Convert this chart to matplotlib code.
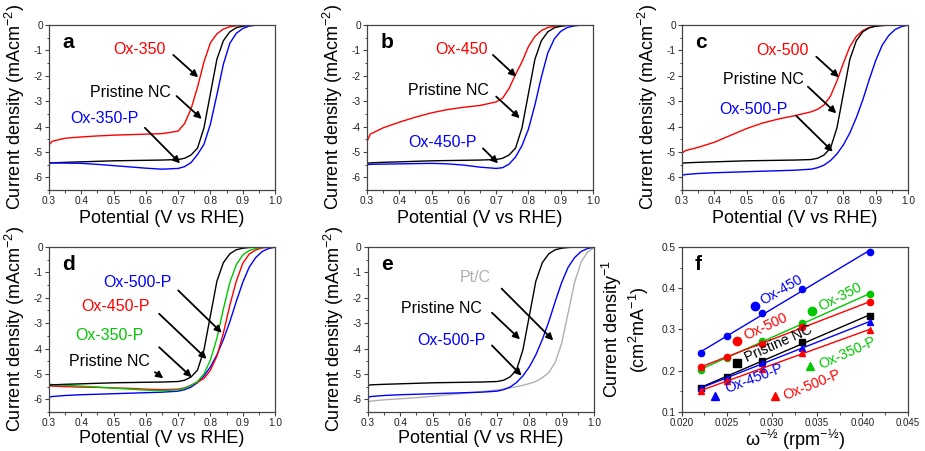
import numpy as np
import matplotlib
matplotlib.use('Agg')
import matplotlib.pyplot as plt
from matplotlib.ticker import MultipleLocator, FormatStrFormatter

plt.rcParams['font.family'] = ['Liberation Sans', 'DejaVu Sans']
plt.rcParams['axes.unicode_minus'] = False
plt.rcParams['mathtext.fontset'] = 'custom'
plt.rcParams['mathtext.rm'] = 'Liberation Sans'
plt.rcParams['mathtext.it'] = 'Liberation Sans:italic'
plt.rcParams['mathtext.default'] = 'regular'

# ---- LSV data (potential in V vs RHE, current density in mA cm-2) ----
potential = [0.30, 0.31, 0.35, 0.40, 0.45, 0.50, 0.55, 0.60, 0.65, 0.70, 0.72, 0.74, 0.76,
             0.78, 0.80, 0.82, 0.84, 0.86, 0.88, 0.90, 0.92, 0.94, 0.96, 0.98, 1.00]

pristine = [-5.45, -5.43, -5.41, -5.39, -5.37, -5.35, -5.34, -5.33, -5.32, -5.30, -5.25, -5.12, -4.85,
            -4.05, -2.70, -1.35, -0.62, -0.27, -0.11, -0.05, -0.02, -0.01, 0, 0, 0]
ox350 = [-4.72, -4.58, -4.46, -4.41, -4.37, -4.34, -4.32, -4.30, -4.28, -4.18, -3.88, -3.30, -2.45,
         -1.45, -0.70, -0.35, -0.16, -0.07, -0.03, -0.01, 0, 0, 0, 0, 0]
ox350p = [-5.42, -5.43, -5.44, -5.45, -5.49, -5.54, -5.59, -5.64, -5.68, -5.65, -5.58, -5.42, -5.10,
          -4.70, -3.90, -2.75, -1.55, -0.72, -0.33, -0.14, -0.04, -0.01, 0, 0, 0]
ox450 = [-4.59, -4.30, -4.05, -3.83, -3.63, -3.46, -3.33, -3.24, -3.17, -3.03, -2.88, -2.50, -1.95,
         -1.45, -0.85, -0.45, -0.22, -0.10, -0.05, -0.02, -0.01, 0, 0, 0, 0]
ox450p = [-5.50, -5.49, -5.48, -5.47, -5.46, -5.45, -5.47, -5.52, -5.60, -5.65, -5.62, -5.48, -5.20,
          -4.75, -4.10, -3.15, -2.05, -1.10, -0.55, -0.25, -0.10, -0.04, -0.01, 0, 0]
ox500 = [-5.05, -4.95, -4.82, -4.62, -4.35, -4.08, -3.86, -3.70, -3.57, -3.42, -3.32, -3.15, -2.80,
         -2.20, -1.50, -0.85, -0.45, -0.22, -0.10, -0.04, -0.02, -0.01, 0, 0, 0]
ox500p = [-5.92, -5.89, -5.85, -5.82, -5.80, -5.78, -5.76, -5.74, -5.72, -5.68, -5.62, -5.52, -5.34,
          -5.08, -4.72, -4.25, -3.65, -2.95, -2.15, -1.40, -0.80, -0.42, -0.18, -0.06, -0.01]
# panel d traces
d_ox350p = [-5.40, -5.42, -5.45, -5.48, -5.52, -5.56, -5.60, -5.64, -5.66, -5.63, -5.57, -5.45, -5.30,
            -5.00, -4.45, -3.60, -2.45, -1.40, -0.70, -0.32, -0.14, -0.06, -0.02, 0, 0]
d_ox450p = [-5.46, -5.48, -5.50, -5.52, -5.53, -5.55, -5.57, -5.60, -5.62, -5.60, -5.55, -5.45, -5.32,
            -5.18, -4.85, -4.30, -3.40, -2.30, -1.35, -0.65, -0.28, -0.12, -0.04, -0.01, 0]
ptc = [-6.10, -6.07, -6.02, -5.98, -5.94, -5.88, -5.82, -5.76, -5.70, -5.63, -5.60, -5.55, -5.50,
       -5.45, -5.38, -5.30, -5.15, -4.95, -4.55, -3.80, -2.60, -1.40, -0.60, -0.20, -0.03]

# ---- Koutecky-Levich data ----
omega = [0.0222, 0.0250, 0.0289, 0.0333, 0.0408]
kl_ox450 = [0.243, 0.283, 0.339, 0.399, 0.487]
kl_ox350 = [0.202, 0.232, 0.272, 0.315, 0.385]
kl_ox500 = [0.209, 0.234, 0.266, 0.306, 0.366]
kl_pristine = [0.159, 0.186, 0.224, 0.2685, 0.333]
kl_ox450p = [0.158, 0.182, 0.218, 0.256, 0.318]
kl_ox500p = [0.152, 0.175, 0.205, 0.243, 0.299]

RED = '#ff0000'
BLUE = '#0000ff'
GREEN = '#00c800'
GREY = '#b0b0b0'

fig = plt.figure(figsize=(9.25, 4.51), dpi=100)
W, H = 0.2443, 0.3659
ax_a = fig.add_axes([0.0530, 0.5787, W, H])
ax_b = fig.add_axes([0.3968, 0.5787, W, H])
ax_c = fig.add_axes([0.7373, 0.5787, W, H])
ax_d = fig.add_axes([0.0530, 0.0865, W, H])
ax_e = fig.add_axes([0.3978, 0.0865, W, H])
ax_f = fig.add_axes([0.7368, 0.0865, W, H])


def style_axes(ax):
    for sp in ax.spines.values():
        sp.set_color('#444444')
        sp.set_linewidth(0.9)
    ax.tick_params(which='both', direction='out', top=False, right=False,
                   labelsize=7.3, colors='#444444', labelcolor='#222222', pad=1.5)
    ax.tick_params(which='major', length=3, width=0.8)
    ax.tick_params(which='minor', length=1.8, width=0.7)


def setup_lsv(ax, letter, xlab_y=-0.12):
    ax.set_xlim(0.3, 1.0)
    ax.set_ylim(-6.5, 0)
    ax.xaxis.set_major_locator(MultipleLocator(0.1))
    ax.xaxis.set_minor_locator(MultipleLocator(0.05))
    ax.yaxis.set_major_locator(MultipleLocator(1))
    ax.yaxis.set_minor_locator(MultipleLocator(0.5))
    ax.xaxis.set_major_formatter(FormatStrFormatter('%.1f'))
    ax.yaxis.set_major_formatter(FormatStrFormatter('%d'))
    style_axes(ax)
    ax.set_xlabel('Potential (V vs RHE)', fontsize=13)
    ax.set_ylabel('Current density (mAcm$^{-2}$)', fontsize=13)
    ax.xaxis.set_label_coords(0.5, xlab_y)
    ax.yaxis.set_label_coords(-0.097, 0.5)
    ax.text(0.06, 0.895, letter, transform=ax.transAxes, fontsize=15,
            fontweight='bold', va='center', ha='left')


def arrow(ax, start, end):
    ax.annotate('', xy=end, xytext=start,
                arrowprops=dict(arrowstyle='-|>', color='k', lw=1.3,
                                mutation_scale=10, shrinkA=0, shrinkB=0))


def label(ax, x, y, s, color):
    ax.text(x, y, s, color=color, fontsize=11.5, ha='center', va='center')


# panel a
ax_a.plot(potential, ox350, color=RED, lw=1.0)
ax_a.plot(potential, pristine, color='k', lw=1.0)
ax_a.plot(potential, ox350p, color=BLUE, lw=1.0)
setup_lsv(ax_a, 'a')
label(ax_a, 0.58, -0.98, 'Ox-350', RED)
label(ax_a, 0.551, -2.67, 'Pristine NC', 'k')
label(ax_a, 0.473, -3.68, 'Ox-350-P', BLUE)
arrow(ax_a, (0.685, -1.18), (0.762, -2.06))
arrow(ax_a, (0.695, -2.80), (0.773, -3.70))
arrow(ax_a, (0.597, -4.05), (0.706, -5.45))

# panel b
ax_b.plot(potential, ox450, color=RED, lw=1.0)
ax_b.plot(potential, pristine, color='k', lw=1.0)
ax_b.plot(potential, ox450p, color=BLUE, lw=1.0)
setup_lsv(ax_b, 'b')
label(ax_b, 0.592, -0.96, 'Ox-450', RED)
label(ax_b, 0.551, -2.59, 'Pristine NC', 'k')
label(ax_b, 0.535, -4.62, 'Ox-450-P', BLUE)
arrow(ax_b, (0.690, -1.18), (0.762, -2.03))
arrow(ax_b, (0.700, -2.82), (0.773, -3.67))
arrow(ax_b, (0.659, -4.86), (0.706, -5.45))

# panel c
ax_c.plot(potential, ox500, color=RED, lw=1.0)
ax_c.plot(potential, pristine, color='k', lw=1.0)
ax_c.plot(potential, ox500p, color=BLUE, lw=1.0)
setup_lsv(ax_c, 'c')
label(ax_c, 0.610, -1.01, 'Ox-500', RED)
label(ax_c, 0.551, -2.14, 'Pristine NC', 'k')
label(ax_c, 0.520, -3.32, 'Ox-500-P', BLUE)
arrow(ax_c, (0.716, -1.25), (0.786, -2.06))
arrow(ax_c, (0.690, -2.43), (0.778, -3.48))
arrow(ax_c, (0.654, -3.58), (0.767, -4.99))

# panel d
ax_d.plot(potential, ox500p, color=BLUE, lw=1.0)
ax_d.plot(potential, d_ox450p, color=RED, lw=1.0)
ax_d.plot(potential, d_ox350p, color=GREEN, lw=1.0)
ax_d.plot(potential, pristine, color='k', lw=1.0)
setup_lsv(ax_d, 'd', xlab_y=-0.11)
label(ax_d, 0.573, -1.41, 'Ox-500-P', BLUE)
label(ax_d, 0.507, -2.33, 'Ox-450-P', RED)
label(ax_d, 0.488, -3.49, 'Ox-350-P', GREEN)
label(ax_d, 0.488, -4.51, 'Pristine NC', 'k')
arrow(ax_d, (0.700, -1.71), (0.835, -3.38))
arrow(ax_d, (0.641, -2.63), (0.788, -4.41))
arrow(ax_d, (0.641, -3.95), (0.742, -5.13))
arrow(ax_d, (0.628, -4.93), (0.654, -5.17))

# panel e
ax_e.plot(potential, ptc, color=GREY, lw=1.0)
ax_e.plot(potential, pristine, color='k', lw=1.0)
ax_e.plot(potential, ox500p, color=BLUE, lw=1.0)
setup_lsv(ax_e, 'e', xlab_y=-0.11)
label(ax_e, 0.632, -1.22, 'Pt/C', GREY)
label(ax_e, 0.529, -2.43, 'Pristine NC', 'k')
label(ax_e, 0.558, -3.68, 'Ox-500-P', BLUE)
arrow(ax_e, (0.714, -1.64), (0.874, -3.68))
arrow(ax_e, (0.684, -2.59), (0.771, -3.64))
arrow(ax_e, (0.684, -3.88), (0.776, -5.07))

# panel f: K-L plots
kl_series = [
    (kl_ox450, BLUE, 'o'),
    (kl_ox350, GREEN, 'o'),
    (kl_ox500, RED, 'o'),
    (kl_pristine, 'k', 's'),
    (kl_ox450p, BLUE, '^'),
    (kl_ox500p, RED, '^'),
]
for vals, col, mk in kl_series:
    slope, icpt = np.polyfit(omega, vals, 1)
    xs = np.array([omega[0], omega[-1]])
    ax_f.plot(xs, slope * xs + icpt, color=col, lw=1.0)
    ax_f.plot(omega, vals, linestyle='none', marker=mk, color=col, ms=4.5)

# in-plot legend markers and rotated labels
kl_labels = [
    ('Ox-450', BLUE, 'o', (0.0281, 0.358), (0.0288, 0.368), 30),
    ('Ox-350', GREEN, 'o', (0.0344, 0.346), (0.0353, 0.354), 27),
    ('Ox-500', RED, 'o', (0.0261, 0.271), (0.02696, 0.283), 25),
    ('Pristine NC', 'k', 's', (0.0261, 0.2185), (0.02707, 0.2306), 24),
    ('Ox-450-P', BLUE, '^', (0.0237, 0.1395), (0.02493, 0.156), 21),
    ('Ox-350-P', GREEN, '^', (0.0342, 0.212), (0.03529, 0.2129), 24),
    ('Ox-500-P', RED, '^', (0.0303, 0.1395), (0.03136, 0.1379), 22),
]
for txt, col, mk, mpos, tpos, rot in kl_labels:
    ax_f.plot([mpos[0]], [mpos[1]], marker=mk, color=col, ms=6, linestyle='none')
    ax_f.text(tpos[0], tpos[1], txt, color=col, fontsize=10.3, rotation=rot,
              rotation_mode='anchor', ha='left', va='center')

ax_f.set_xlim(0.020, 0.045)
ax_f.set_ylim(0.1, 0.5)
ax_f.xaxis.set_major_locator(MultipleLocator(0.005))
ax_f.xaxis.set_minor_locator(MultipleLocator(0.0025))
ax_f.yaxis.set_major_locator(MultipleLocator(0.1))
ax_f.yaxis.set_minor_locator(MultipleLocator(0.05))
ax_f.xaxis.set_major_formatter(FormatStrFormatter('%.3f'))
ax_f.yaxis.set_major_formatter(FormatStrFormatter('%.1f'))
style_axes(ax_f)
ax_f.tick_params(axis='x', labelsize=7.0)
ax_f.set_xlabel('ω$^{-½}$ (rpm$^{-½}$)', fontsize=13)
ax_f.set_ylabel('Current density$^{-1}$\n(cm$^{2}$mA$^{-1}$)', fontsize=13,
                linespacing=1.15)
ax_f.xaxis.set_label_coords(0.5, -0.095)
ax_f.yaxis.set_label_coords(-0.135, 0.5)
ax_f.text(0.06, 0.895, 'f', transform=ax_f.transAxes, fontsize=15,
          fontweight='bold', va='center', ha='left')

fig.savefig('out.png', dpi=100)
